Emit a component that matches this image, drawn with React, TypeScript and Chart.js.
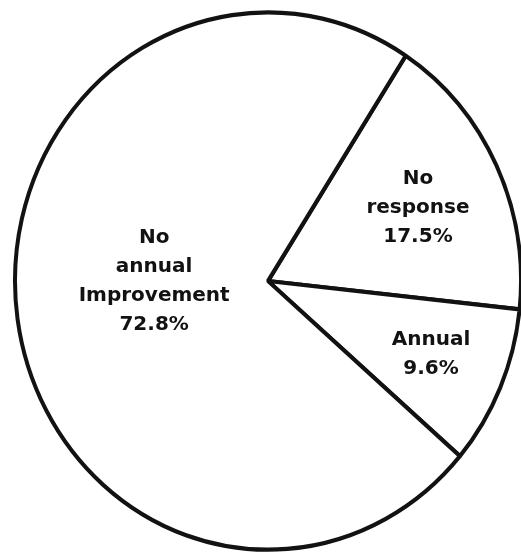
import React, { useEffect, useRef } from "react";
import { Chart, registerables } from "chart.js";

Chart.register(...registerables);

// Survey response shares (percent)
const categories = ["No response", "Annual", "No annual Improvement"];
const shares = [17.5, 9.6, 72.8];

// Label placement per slice: angle clockwise from 12 o'clock (deg) and fraction of radius
const labelAngles = [65.4, 113, 270];
const labelRadii = [0.652, 0.7, 0.45];

const INK = "#121212";
const STRETCH_Y = 1.062; // the pie is drawn slightly taller than wide

const ellipsePlugin = {
  id: "ellipseAndLabels",
  beforeDatasetsDraw(chart: any) {
    const arc = chart.getDatasetMeta(0).data[0];
    if (!arc) return;
    const ctx = chart.ctx;
    ctx.save();
    ctx.translate(arc.x, arc.y);
    ctx.scale(1, STRETCH_Y);
    ctx.translate(-arc.x, -arc.y);
  },
  afterDatasetsDraw(chart: any) {
    const arcs = chart.getDatasetMeta(0).data;
    if (!arcs.length) return;
    const ctx = chart.ctx;
    ctx.restore();

    const cx = arcs[0].x;
    const cy = arcs[0].y;
    const r = arcs[0].outerRadius;
    const lineH = 29;

    ctx.save();
    ctx.fillStyle = INK;
    ctx.font = 'bold 20px "DejaVu Sans", sans-serif';
    ctx.textAlign = "center";
    ctx.textBaseline = "middle";
    categories.forEach((name, i) => {
      const th = (labelAngles[i] * Math.PI) / 180;
      const d = labelRadii[i] * r;
      const x = cx + d * Math.sin(th);
      const y = cy - d * Math.cos(th) * STRETCH_Y;
      const lines = [...name.split(" "), `${shares[i]}%`];
      const top = y - ((lines.length - 1) * lineH) / 2;
      lines.forEach((ln, j) => ctx.fillText(ln, x, top + j * lineH));
    });
    ctx.restore();
  },
};

export default function App() {
  const canvasRef = useRef<HTMLCanvasElement | null>(null);

  useEffect(() => {
    const canvas = canvasRef.current;
    if (!canvas) return;
    const chart = new Chart(canvas, {
      type: "pie",
      data: {
        labels: categories,
        datasets: [
          {
            data: shares,
            backgroundColor: "#ffffff",
            borderColor: INK,
            borderWidth: 4,
            clip: false,
          } as any,
        ],
      },
      options: {
        responsive: false,
        animation: false,
        devicePixelRatio: 1,
        radius: 253,
        rotation: 33,
        layout: { padding: { left: 15, right: 0, top: 9, bottom: 0 } },
        plugins: {
          legend: { display: false },
          tooltip: { enabled: false },
        },
      } as any,
      plugins: [ellipsePlugin],
    });
    return () => chart.destroy();
  }, []);

  return (
    <div
      style={{
        position: "absolute",
        left: 0,
        top: 0,
        width: 521,
        height: 553,
        background: "#ffffff",
        overflow: "hidden",
      }}
    >
      <canvas ref={canvasRef} width={521} height={553} style={{ display: "block" }} />
    </div>
  );
}
